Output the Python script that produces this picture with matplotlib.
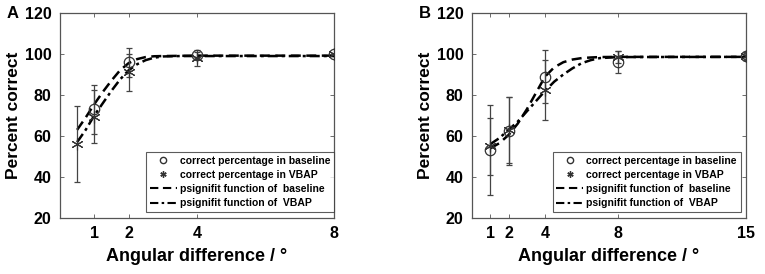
import matplotlib
matplotlib.use("Agg")
import matplotlib.pyplot as plt
from matplotlib.lines import Line2D

plt.rcParams['font.family'] = ['Liberation Sans', 'DejaVu Sans']
plt.rcParams['font.weight'] = 'bold'

# ---------------- Panel A data ----------------
a_x_base = [1, 2, 4, 8]
a_y_base = [73, 96, 99.5, 100]
a_e_base = [12, 7, 1.5, 0]
a_x_vbap = [0.5, 1, 2, 4, 8]
a_y_vbap = [56, 69.5, 91, 98, 100]
a_e_vbap = [18.5, 13, 9, 4, 0]
a_curve_x = [0.5, 0.75, 1, 1.25, 1.5, 1.75, 2, 2.25, 2.5, 2.75, 3, 3.5, 4, 8]
a_curve_base = [63, 69, 75.5, 81.5, 87, 92, 95.5, 97.5, 98.5, 98.9, 99, 99.1, 99.2, 99.2]
a_curve_vbap = [57, 63, 70, 76, 82, 87.5, 92, 95, 97, 98.2, 98.8, 99, 99, 99]
a_xticks = [1, 2, 4, 8]

# ---------------- Panel B data ----------------
b_x = [1, 2, 4, 8, 15]
b_y_base = [53, 62.5, 89, 96, 99]
b_e_base = [22, 16.5, 13, 5.5, 2]
b_y_vbap = [55, 63, 82.5, 98.5, 99]
b_e_vbap = [14, 16, 14.5, 3, 1.5]
b_curve_x = [1, 1.5, 2, 2.5, 3, 3.5, 4, 4.5, 5, 5.5, 6, 6.5, 7, 8, 15]
b_curve_base = [54, 56.5, 60.5, 66, 73, 81, 89, 93.5, 96, 97.3, 98, 98.3, 98.5, 98.6, 98.6]
b_curve_vbap = [56, 59, 63, 67, 72, 77, 82, 86.5, 90, 93, 95.5, 97, 98, 98.5, 98.6]
b_xticks = [1, 2, 4, 8, 15]

yticks = [20, 40, 60, 80, 100, 120]

fig = plt.figure(figsize=(7.65, 2.74), dpi=100)
axA = fig.add_axes([60/765, 1-218/274, 274/765, 205/274])
axB = fig.add_axes([472/765, 1-218/274, 274/765, 205/274])

ecol = '#444444'
DASH = (0, (4, 2.2))
DASHDOT = (0, (4, 1.6, 1.2, 1.6))

def draw(ax, xb, yb, eb, xv, yv, ev, cx, cb, cv, xlim, xticks, legend_anchor, label):
    ax.plot(cx, cb, color='black', lw=1.8, linestyle=DASH, zorder=3)
    ax.plot(cx, cv, color='black', lw=1.8, linestyle=DASHDOT, zorder=3)
    ax.errorbar(xb, yb, yerr=eb, fmt='o', mfc='none', mec='#333333', ms=7.5, mew=0.9,
                ecolor=ecol, elinewidth=0.9, capsize=2.5, capthick=0.9, zorder=4)
    ax.errorbar(xv, yv, yerr=ev, fmt='none', ecolor=ecol, elinewidth=0.9,
                capsize=2.5, capthick=0.9, zorder=4)
    ax.plot(xv, yv, linestyle='none', marker=(6, 2, 0), ms=8.5, mec='#333333', mew=0.8, zorder=5)
    ax.set_xlim(*xlim)
    ax.set_ylim(20, 120)
    ax.set_xticks(xticks)
    ax.set_yticks(yticks)
    ax.tick_params(direction='in', top=True, right=True, length=3, width=0.6,
                   colors='#555555', labelcolor='black', labelsize=11.5, pad=6)
    for t in ax.get_xticklabels() + ax.get_yticklabels():
        t.set_fontweight('bold')
    for s in ax.spines.values():
        s.set_color('#555555')
        s.set_linewidth(0.9)
    ax.set_xlabel('Angular difference / °', fontsize=13, fontweight='bold', labelpad=5)
    ax.set_ylabel('Percent correct', fontsize=12.5, fontweight='bold', labelpad=3)
    handles = [
        Line2D([0], [0], marker='o', mfc='none', mec='#333333', ms=4.5, ls='none'),
        Line2D([0], [0], marker=(6, 2, 0), mec='#333333', ms=4.5, ls='none'),
        Line2D([0], [0], color='black', lw=1.5, linestyle=DASH),
        Line2D([0], [0], color='black', lw=1.5, linestyle=DASHDOT),
    ]
    labels = ['correct percentage in baseline', 'correct percentage in VBAP',
              'psignifit function of  baseline', 'psignifit function of  VBAP']
    leg = ax.legend(handles, labels, loc='lower right', bbox_to_anchor=legend_anchor,
                    fontsize=7.5, frameon=True, fancybox=False, edgecolor='#333333',
                    borderpad=0.35, labelspacing=0.4, handlelength=2.6, handletextpad=0.3,
                    borderaxespad=0)
    leg.get_frame().set_linewidth(0.8)
    for t in leg.get_texts():
        t.set_fontweight('bold')
    ax.text(-0.195, 1.0, label, transform=ax.transAxes, fontsize=12, fontweight='bold',
            ha='left', va='center')

draw(axA, a_x_base, a_y_base, a_e_base, a_x_vbap, a_y_vbap, a_e_vbap,
     a_curve_x, a_curve_base, a_curve_vbap, (0, 8), a_xticks, (1.0, 0.03), 'A')
draw(axB, b_x, b_y_base, b_e_base, b_x, b_y_vbap, b_e_vbap,
     b_curve_x, b_curve_base, b_curve_vbap, (0, 15), b_xticks, (0.98, 0.03), 'B')

fig.savefig('out.png', dpi=100)
